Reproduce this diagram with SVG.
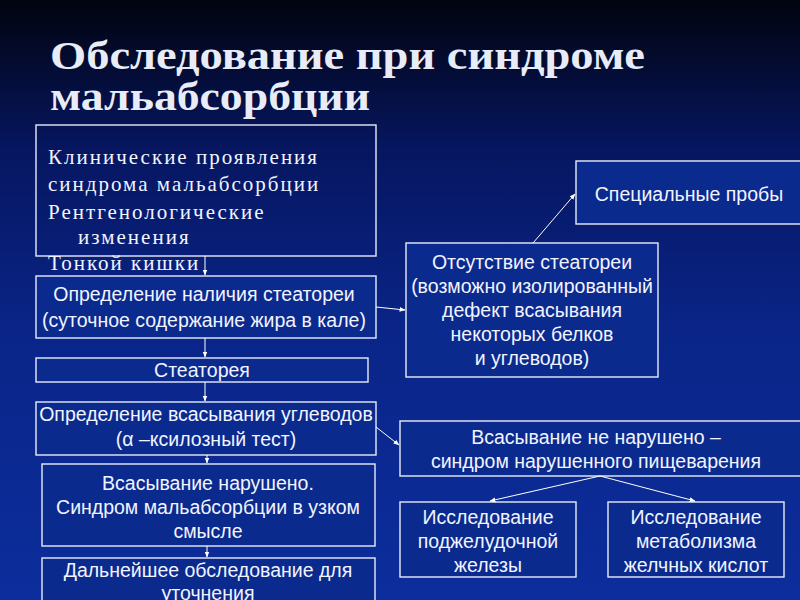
<svg xmlns="http://www.w3.org/2000/svg" width="800" height="600" viewBox="0 0 800 600">
<defs>
<linearGradient id="bg" x1="0" y1="0" x2="0" y2="1">
<stop offset="0" stop-color="#02040f"/>
<stop offset="0.25" stop-color="#061660"/>
<stop offset="0.55" stop-color="#0a2588"/>
<stop offset="1" stop-color="#0c2d9c"/>
</linearGradient>
<marker id="ah" viewBox="0 0 10 10" refX="9" refY="5" markerWidth="6" markerHeight="6" orient="auto" markerUnits="userSpaceOnUse">
<path d="M0,1 L10,5 L0,9 z" fill="#ffffff"/>
</marker>
<style>
.box{fill:#0b2a8e;stroke:#e8ecf8;stroke-width:1.4}
.open{fill:none;stroke:#e8ecf8;stroke-width:1.4}
.t{font-family:"Liberation Sans",Arial,sans-serif;font-size:19.5px;fill:#f2f4ff;text-anchor:middle}
.s{font-family:"Liberation Serif","Times New Roman",serif;font-size:21px;fill:#f2f4ff;letter-spacing:2px}
.title{font-family:"Liberation Serif","Times New Roman",serif;font-weight:bold;font-size:40px;fill:#e8ecf6}
.c{stroke:#ffffff;stroke-width:1;fill:none;marker-end:url(#ah)}
</style>
</defs>
<rect x="0" y="0" width="800" height="600" fill="url(#bg)"/>
<g id="title">
<text class="title" x="50" y="69" textLength="595" lengthAdjust="spacingAndGlyphs">Обследование при синдроме</text>
<text class="title" x="50" y="110" textLength="320" lengthAdjust="spacingAndGlyphs">мальабсорбции</text>
</g>
<g id="clinical">
<rect class="open" x="36" y="125" width="340" height="131"/>
<text class="s" x="48" y="164">Клинические проявления</text>
<text class="s" x="48" y="191">синдрома мальабсорбции</text>
<text class="s" x="48" y="219">Рентгенологические</text>
<text class="s" x="78" y="244">изменения</text>
<text class="s" x="48" y="270">Тонкой кишки</text>
</g>
<g id="steatorrhea-test">
<rect class="box" x="36" y="276" width="340" height="62"/>
<text class="t" x="204" y="301">Определение наличия стеатореи</text>
<text class="t" x="204" y="327">(суточное содержание жира в кале)</text>
</g>
<g id="steatorrhea">
<rect class="box" x="36" y="358" width="332" height="24"/>
<text class="t" x="202" y="377">Стеаторея</text>
</g>
<g id="carb-test">
<rect class="box" x="36" y="402" width="340" height="53"/>
<text class="t" x="206" y="421">Определение всасывания углеводов</text>
<text class="t" x="206" y="446">(α –ксилозный тест)</text>
</g>
<g id="malabsorption">
<rect class="box" x="42" y="464" width="333" height="82"/>
<text class="t" x="208" y="490">Всасывание нарушено.</text>
<text class="t" x="208" y="514">Синдром мальабсорбции в узком</text>
<text class="t" x="208" y="538">смысле</text>
</g>
<g id="further">
<rect class="box" x="42" y="558" width="333" height="60"/>
<text class="t" x="208" y="577">Дальнейшее обследование для</text>
<text class="t" x="208" y="600">уточнения</text>
</g>
<g id="special">
<rect class="box" x="576" y="161" width="240" height="63"/>
<text class="t" x="689" y="201">Специальные пробы</text>
</g>
<g id="no-steatorrhea">
<rect class="box" x="406" y="243" width="252" height="134"/>
<text class="t" x="532" y="269">Отсутствие стеатореи</text>
<text class="t" x="532" y="293">(возможно изолированный</text>
<text class="t" x="532" y="317">дефект всасывания</text>
<text class="t" x="532" y="341">некоторых белков</text>
<text class="t" x="532" y="365">и углеводов)</text>
</g>
<g id="digestion">
<rect class="box" x="400" y="421" width="420" height="55"/>
<text class="t" x="596" y="444">Всасывание не нарушено –</text>
<text class="t" x="596" y="468">синдром нарушенного пищеварения</text>
</g>
<g id="pancreas">
<rect class="box" x="400" y="502" width="176" height="75"/>
<text class="t" x="488" y="524">Исследование</text>
<text class="t" x="488" y="548">поджелудочной</text>
<text class="t" x="488" y="572">железы</text>
</g>
<g id="bile">
<rect class="box" x="608" y="502" width="176" height="75"/>
<text class="t" x="696" y="524">Исследование</text>
<text class="t" x="696" y="548">метаболизма</text>
<text class="t" x="696" y="572">желчных кислот</text>
</g>
<g id="connectors">
<line class="c" x1="205" y1="256" x2="205" y2="275"/>
<line class="c" x1="205" y1="338" x2="205" y2="357"/>
<line class="c" x1="205" y1="382" x2="205" y2="401"/>
<line class="c" x1="207" y1="455" x2="207" y2="463"/>
<line class="c" x1="207" y1="546" x2="207" y2="557"/>
<line class="c" x1="376" y1="307" x2="405" y2="310"/>
<line class="c" x1="376" y1="427" x2="399" y2="445"/>
<line class="c" x1="533" y1="243" x2="575" y2="194"/>
<line class="c" x1="600" y1="476" x2="490" y2="501"/>
<line class="c" x1="600" y1="476" x2="695" y2="501"/>
</g>
</svg>
